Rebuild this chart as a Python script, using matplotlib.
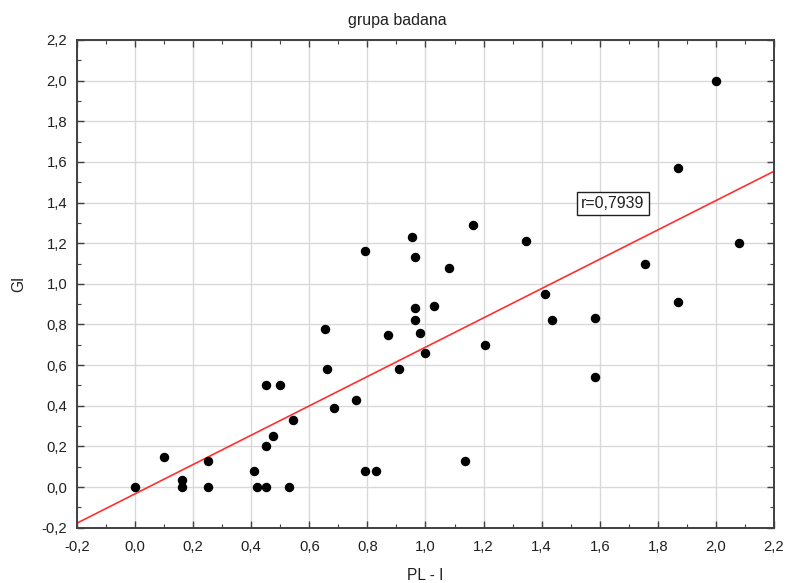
import matplotlib
matplotlib.use("Agg")
import matplotlib.pyplot as plt
from matplotlib.ticker import MultipleLocator, FuncFormatter
import numpy as np

plt.rcParams['font.family'] = ['Liberation Sans', 'DejaVu Sans']

# PL - I scores and GI scores of the study group
pl_i = [0.00, 0.10, 0.16, 0.16, 0.25, 0.25, 0.41, 0.42, 0.45, 0.45,
        0.45, 0.475, 0.50, 0.53, 0.545, 0.655, 0.66, 0.685, 0.76, 0.79,
        0.79, 0.83, 0.87, 0.91, 0.955, 0.965, 0.965, 0.965, 0.98, 1.00,
        1.03, 1.08, 1.135, 1.165, 1.205, 1.345, 1.41, 1.435, 1.585, 1.585,
        1.755, 1.87, 1.87, 2.00, 2.08]
gi = [0.00, 0.15, 0.035, 0.00, 0.13, 0.00, 0.08, 0.00, 0.50, 0.20,
      0.00, 0.25, 0.50, 0.00, 0.33, 0.78, 0.58, 0.39, 0.43, 1.16,
      0.08, 0.08, 0.75, 0.58, 1.23, 1.13, 0.88, 0.82, 0.76, 0.66,
      0.89, 1.08, 0.13, 1.29, 0.70, 1.21, 0.95, 0.82, 0.83, 0.54,
      1.10, 1.57, 0.91, 2.00, 1.20]
r_label = "r=0,7939"

W, H = 787, 583
fig = plt.figure(figsize=(W / 100, H / 100), dpi=100)
ax = fig.add_axes([0.0978, 0.0949, 0.8857, 0.8365])

x = np.array(pl_i)
y = np.array(gi)
slope, intercept = np.polyfit(x, y, 1)
xs = np.array([-0.2, 2.2])
ax.plot(xs, intercept + slope * xs, color='#ff3030', lw=1.2, zorder=2)
ax.plot(x, y, 'o', color='black', markersize=5.8, zorder=3)

ax.set_xlim(-0.2, 2.2)
ax.set_ylim(-0.2, 2.2)


def comma_fmt(v, pos):
    s = f"{v:.1f}".replace('.', ',')
    return '0,0' if s == '-0,0' else s


for axis in (ax.xaxis, ax.yaxis):
    axis.set_major_locator(MultipleLocator(0.2))
    axis.set_minor_locator(MultipleLocator(0.1))
    axis.set_major_formatter(FuncFormatter(comma_fmt))

ax.grid(True, which='major', color='#d9d9d9', lw=1.0, zorder=0)
ax.set_axisbelow(True)
ax.tick_params(which='both', direction='in', top=True, right=True,
               color='#404040', labelsize=10.7, labelcolor='#202020')
ax.tick_params(which='major', length=5, width=1)
ax.tick_params(which='minor', length=3, width=0.8)
ax.tick_params(axis='x', pad=9)
ax.tick_params(axis='y', pad=7)
for s in ax.spines.values():
    s.set_color('#404040')
    s.set_linewidth(1.4)

fig.text(397 / W, 1 - 20 / H, "grupa badana", fontsize=11.5, color='#202020',
         ha='center', va='center')
fig.text(425 / W, 1 - 575 / H, "PL - I", fontsize=11.2, color='#202020',
         ha='center', va='center')
fig.text(19 / W, 1 - 284 / H, "GI", fontsize=11.2, color='#202020',
         ha='center', va='center', rotation=90)

ax.text(1.645, 1.395, r_label, fontsize=11.5, color='#202020', ha='center', va='center',
        bbox=dict(boxstyle='square,pad=0.25', facecolor='white', edgecolor='#202020', lw=1.0),
        zorder=4)

fig.savefig("out.png", dpi=100)
